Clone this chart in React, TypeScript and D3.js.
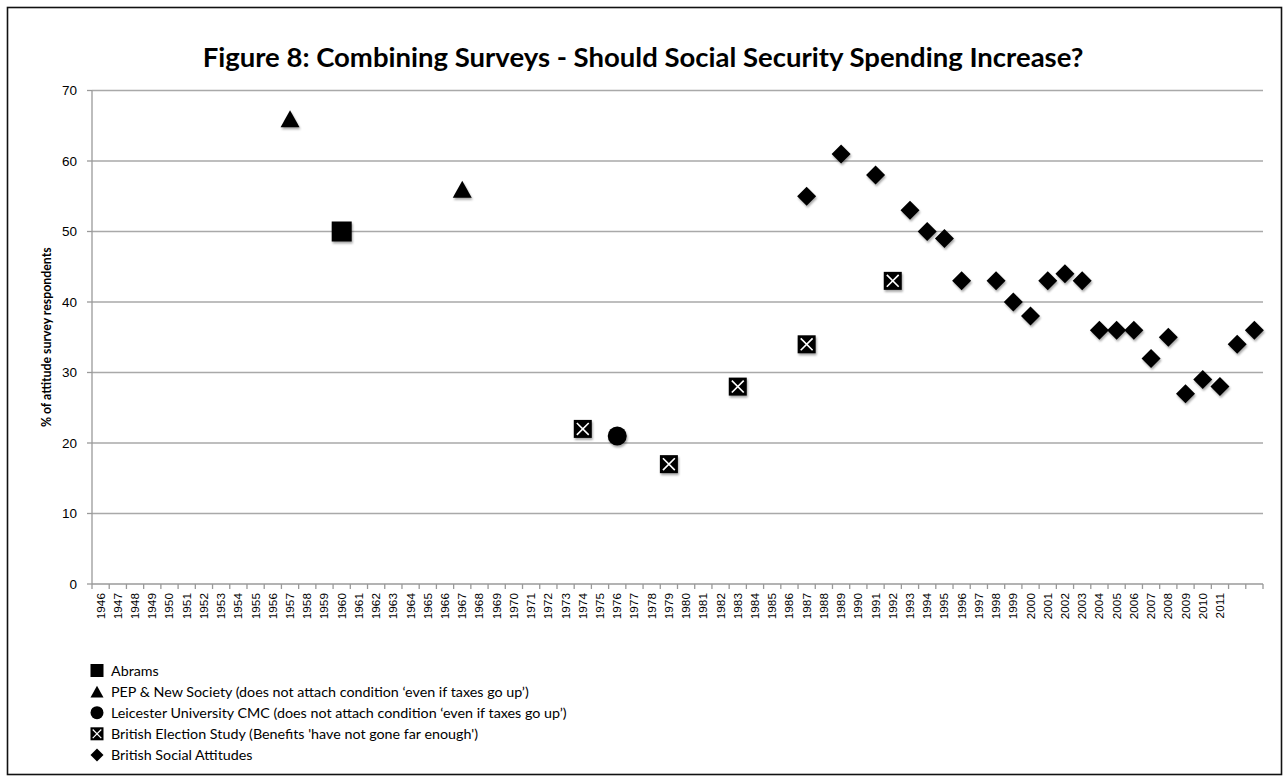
import React from "react";
import * as d3 from "d3";

// Survey years on the category axis (the last two carry no printed label)
const years = [
  "1946", "1947", "1948", "1949", "1950", "1951", "1952", "1953", "1954", "1955",
  "1956", "1957", "1958", "1959", "1960", "1961", "1962", "1963", "1964", "1965",
  "1966", "1967", "1968", "1969", "1970", "1971", "1972", "1973", "1974", "1975",
  "1976", "1977", "1978", "1979", "1980", "1981", "1982", "1983", "1984", "1985",
  "1986", "1987", "1988", "1989", "1990", "1991", "1992", "1993", "1994", "1995",
  "1996", "1997", "1998", "1999", "2000", "2001", "2002", "2003", "2004", "2005",
  "2006", "2007", "2008", "2009", "2010", "2011", "2012", "2013",
];
const unlabelledYears = ["2012", "2013"];

const yTicks = [0, 10, 20, 30, 40, 50, 60, 70];

type Pt = { year: string; value: number };

const abrams: Pt[] = [{ year: "1960", value: 50 }];

const pepNewSociety: Pt[] = [
  { year: "1957", value: 66 },
  { year: "1967", value: 56 },
];

const leicesterCMC: Pt[] = [{ year: "1976", value: 21 }];

const britishElectionStudy: Pt[] = [
  { year: "1974", value: 22 },
  { year: "1979", value: 17 },
  { year: "1983", value: 28 },
  { year: "1987", value: 34 },
  { year: "1992", value: 43 },
];

const britishSocialAttitudes: Pt[] = [
  { year: "1987", value: 55 },
  { year: "1989", value: 61 },
  { year: "1991", value: 58 },
  { year: "1993", value: 53 },
  { year: "1994", value: 50 },
  { year: "1995", value: 49 },
  { year: "1996", value: 43 },
  { year: "1998", value: 43 },
  { year: "1999", value: 40 },
  { year: "2000", value: 38 },
  { year: "2001", value: 43 },
  { year: "2002", value: 44 },
  { year: "2003", value: 43 },
  { year: "2004", value: 36 },
  { year: "2005", value: 36 },
  { year: "2006", value: 36 },
  { year: "2007", value: 32 },
  { year: "2008", value: 35 },
  { year: "2009", value: 27 },
  { year: "2010", value: 29 },
  { year: "2011", value: 28 },
  { year: "2012", value: 34 },
  { year: "2013", value: 36 },
];

type Shape = "square" | "triangle" | "circle" | "xsquare" | "diamond";

const legendItems: { label: string; shape: Shape }[] = [
  { label: "Abrams", shape: "square" },
  { label: "PEP & New Society (does not attach condition \u2018even if taxes go up\u2019)", shape: "triangle" },
  { label: "Leicester University CMC  (does not attach condition \u2018even if taxes go up\u2019)", shape: "circle" },
  { label: "British Election Study  (Benefits 'have not gone far enough')", shape: "xsquare" },
  { label: "British Social Attitudes", shape: "diamond" },
];

const W = 1286;
const H = 782;
const plot = { left: 92, right: 1263, top: 90.5, bottom: 584 };
const gridColor = "#a9a9a9";
const axisColor = "#9a9a9a";
const labelFont = "'Liberation Sans', Arial, sans-serif";
const textFont = "Lato, 'Open Sans', sans-serif";

function Marker({ shape, cx, cy, size, shadow }: { shape: Shape; cx: number; cy: number; size: number; shadow?: boolean }) {
  const h = size / 2;
  const filter = shadow ? "url(#mshadow)" : undefined;
  if (shape === "square") {
    return <rect x={cx - h} y={cy - h} width={size} height={size} fill="#000" filter={filter} />;
  }
  if (shape === "triangle") {
    const th = size * 0.9;
    return (
      <path
        d={`M${cx},${cy - th / 2} L${cx + h},${cy + th / 2} L${cx - h},${cy + th / 2} Z`}
        fill="#000"
        filter={filter}
      />
    );
  }
  if (shape === "circle") {
    return <circle cx={cx} cy={cy} r={h} fill="#000" filter={filter} />;
  }
  if (shape === "diamond") {
    return (
      <path
        d={`M${cx},${cy - h} L${cx + h},${cy} L${cx},${cy + h} L${cx - h},${cy} Z`}
        fill="#000"
        filter={filter}
      />
    );
  }
  const k = h - size * 0.17;
  return (
    <g filter={filter}>
      <rect x={cx - h} y={cy - h} width={size} height={size} fill="#000" />
      <path
        d={`M${cx - k},${cy - k} L${cx + k},${cy + k} M${cx + k},${cy - k} L${cx - k},${cy + k}`}
        stroke="#fff"
        strokeWidth={size * 0.09}
      />
    </g>
  );
}

export default function App() {
  const x = d3.scaleBand<string>().domain(years).range([plot.left, plot.right]).padding(0);
  const y = d3.scaleLinear().domain([0, 70]).range([plot.bottom, plot.top]);
  const bw = x.bandwidth();
  const cx = (yr: string) => (x(yr) as number) + bw / 2;

  const series: { data: Pt[]; shape: Shape; size: number }[] = [
    { data: abrams, shape: "square", size: 20 },
    { data: pepNewSociety, shape: "triangle", size: 19 },
    { data: leicesterCMC, shape: "circle", size: 19 },
    { data: britishElectionStudy, shape: "xsquare", size: 18 },
    { data: britishSocialAttitudes, shape: "diamond", size: 19 },
  ];

  return (
    <svg
      width={W}
      height={H}
      style={{ position: "absolute", left: 0, top: 0, background: "#fff" }}
    >
      <defs>
        <filter id="mshadow" x="-50%" y="-50%" width="200%" height="200%">
          <feDropShadow dx="1" dy="2" stdDeviation="1.3" floodColor="#000" floodOpacity="0.35" />
        </filter>
      </defs>
      <rect x={0} y={0} width={W} height={H} fill="#fff" />
      <rect x={7.5} y={7.5} width={1274} height={767} fill="none" stroke="#111" strokeWidth={1.6} />

      <text
        x={643}
        y={67}
        textAnchor="middle"
        fontFamily={textFont}
        fontWeight={700}
        fontSize={27.5}
        fill="#000"
      >
        Figure 8: Combining Surveys - Should Social Security Spending Increase?
      </text>

      {/* horizontal gridlines */}
      {yTicks.filter((t) => t > 0).map((t) => (
        <line key={`g${t}`} x1={plot.left} x2={plot.right} y1={y(t)} y2={y(t)} stroke={gridColor} strokeWidth={1.3} />
      ))}

      {/* y axis */}
      <line x1={plot.left} x2={plot.left} y1={plot.top} y2={plot.bottom} stroke={axisColor} strokeWidth={1.3} />
      {yTicks.map((t) => (
        <g key={`yt${t}`}>
          <line x1={plot.left - 5} x2={plot.left} y1={y(t)} y2={y(t)} stroke={axisColor} strokeWidth={1.3} />
          <text
            x={plot.left - 15}
            y={y(t)}
            textAnchor="end"
            dominantBaseline="central"
            fontFamily={labelFont}
            fontSize={13.5}
            fill="#000"
          >
            {t}
          </text>
        </g>
      ))}
      <text
        transform={`translate(46,${(plot.top + plot.bottom) / 2}) rotate(-90)`}
        textAnchor="middle"
        dominantBaseline="central"
        fontFamily={textFont}
        fontWeight={700}
        fontSize={12.3}
        fill="#000"
      >
        % of attitude survey respondents
      </text>

      {/* x axis */}
      <line x1={plot.left} x2={plot.right} y1={plot.bottom} y2={plot.bottom} stroke={axisColor} strokeWidth={1.3} />
      {d3.range(years.length + 1).map((i) => {
        const xx = plot.left + i * x.step();
        return <line key={`xt${i}`} x1={xx} x2={xx} y1={plot.bottom} y2={plot.bottom + 5} stroke={axisColor} strokeWidth={1.3} />;
      })}
      {years
        .filter((yr) => !unlabelledYears.includes(yr))
        .map((yr) => (
          <text
            key={`xl${yr}`}
            transform={`translate(${cx(yr)},${plot.bottom + 9}) rotate(-90)`}
            textAnchor="end"
            dominantBaseline="central"
            fontFamily={labelFont}
            fontSize={11.8}
            fill="#000"
          >
            {yr}
          </text>
        ))}

      {/* markers */}
      {series.map((s, si) =>
        s.data.map((d, di) => (
          <Marker key={`m${si}-${di}`} shape={s.shape} cx={cx(d.year)} cy={y(d.value)} size={s.size} shadow />
        ))
      )}

      {/* legend */}
      {legendItems.map((item, i) => {
        const ly = 670.5 + i * 21.1;
        return (
          <g key={`lg${i}`}>
            <Marker shape={item.shape} cx={97} cy={ly} size={13} />
            <text
              x={111}
              y={ly}
              dominantBaseline="central"
              fontFamily={textFont}
              fontSize={14.3}
              fill="#000"
            >
              {item.label}
            </text>
          </g>
        );
      })}
    </svg>
  );
}
